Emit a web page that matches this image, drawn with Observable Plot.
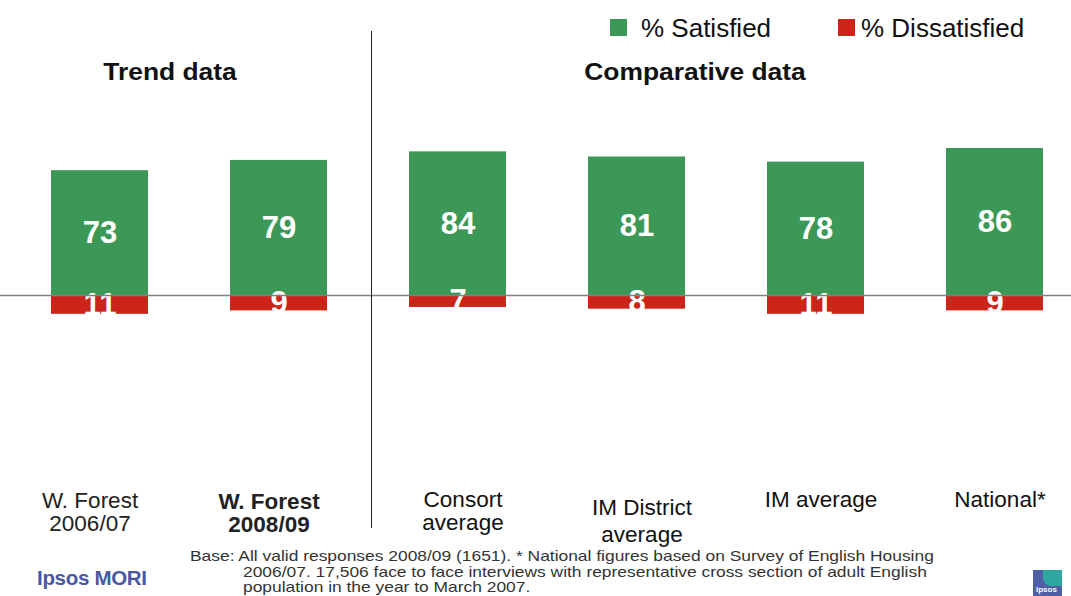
<!DOCTYPE html>
<html>
<head>
<meta charset="utf-8">
<script src="https://cdn.jsdelivr.net/npm/d3@7"></script>
<script src="https://cdn.jsdelivr.net/npm/@observablehq/plot@0.6"></script>
<style>
  html, body { margin: 0; padding: 0; background: #fff; }
  #wrap { position: relative; width: 1071px; height: 596px; overflow: hidden; font-family: "Liberation Sans", Arial, sans-serif; }
  #wrap svg { position: absolute; left: 0; top: 0; overflow: visible; }
  .abs { position: absolute; white-space: nowrap; }
</style>
</head>
<body>
<div id="wrap"></div>
<script>
const categories = ["W. Forest\n2006/07", "W. Forest\n2008/09", "Consort\naverage", "IM District\naverage", "IM average", "National*"];
const satisfied = [73, 79, 84, 81, 78, 86];
const dissatisfied = [11, 9, 7, 8, 11, 9];
const seriesNames = ["% Satisfied", "% Dissatisfied"];
const seriesColors = ["#3c9856", "#cc2418"];
const groupTitles = ["Trend data", "Comparative data"];
const footnote = [
  "Base: All valid responses 2008/09 (1651). * National figures based on Survey of English Housing",
  "2006/07. 17,506 face to face interviews with representative cross section of adult English",
  "population in the year to March 2007."
];

const rows = categories.map((c, i) => ({cat: c, sat: satisfied[i], dis: dissatisfied[i]}));
const compRows = rows.slice(2);

const chart = Plot.plot({
  width: 1071,
  height: 596,
  margin: 0,
  style: {fontFamily: "Liberation Sans, Arial, sans-serif", background: "transparent"},
  x: {domain: categories, range: [10.5, 1084.5], paddingInner: 0.458, paddingOuter: 0.229, axis: null},
  y: {domain: [0, 100], range: [295, 124], axis: null},
  marks: [
    Plot.barY(rows, {x: "cat", y1: 0, y2: "sat", fill: seriesColors[0]}),
    Plot.barY(rows, {x: "cat", y1: 0, y2: d => -d.dis, fill: seriesColors[1]}),
    Plot.text(rows, {x: "cat", y: d => d.sat / 2, text: d => String(d.sat), fill: "white", fontSize: 31, fontWeight: "bold"}),
    Plot.text(rows, {x: "cat", y: d => -d.dis / 2, text: d => String(d.dis), fill: "white", fontSize: 31, fontWeight: "bold"}),
    Plot.ruleY([0], {stroke: "#808080", strokeWidth: 1.5}),
    Plot.text(rows.slice(0, 1), {x: "cat", text: "cat", frameAnchor: "top", dy: 491, dx: -10, lineAnchor: "top", fontSize: 22.5, lineHeight: 1.03, fill: "#222"}),
    Plot.text(rows.slice(1, 2), {x: "cat", text: "cat", frameAnchor: "top", dy: 493, dx: -10, lineAnchor: "top", fontSize: 22.5, lineHeight: 1.0, fontWeight: "bold", fill: "#222"}),
    Plot.text(compRows.filter(d => d.cat !== "IM District\naverage"), {x: "cat", text: "cat", frameAnchor: "top", dy: 490, dx: 5, lineAnchor: "top", fontSize: 22.5, lineHeight: 1.03, fill: "#111"}),
    Plot.text(compRows.filter(d => d.cat === "IM District\naverage"), {x: "cat", text: "cat", frameAnchor: "top", dy: 495, dx: 5, lineAnchor: "top", fontSize: 22.5, lineHeight: 1.2, fill: "#111"})
  ]
});

const wrap = document.getElementById("wrap");
wrap.appendChild(chart);

function addDiv(html, style) {
  const d = document.createElement("div");
  d.className = "abs";
  d.innerHTML = html;
  Object.assign(d.style, style);
  wrap.appendChild(d);
  return d;
}

// divider between trend and comparative groups
addDiv("", {left: "371px", top: "31px", width: "1px", height: "497px", background: "#222"});

// group titles
addDiv(groupTitles[0], {left: "170px", top: "58px", transform: "translateX(-50%) scaleX(1.1)", fontSize: "24px", fontWeight: "bold", color: "#111"});
addDiv(groupTitles[1], {left: "695px", top: "58px", transform: "translateX(-50%) scaleX(1.1)", fontSize: "24px", fontWeight: "bold", color: "#111"});

// legend
addDiv("", {left: "610px", top: "19px", width: "17px", height: "17px", background: seriesColors[0]});
addDiv(seriesNames[0], {left: "641px", top: "13px", fontSize: "26px", lineHeight: "30px", color: "#111"});
addDiv("", {left: "838px", top: "19px", width: "17px", height: "17px", background: seriesColors[1]});
addDiv(seriesNames[1], {left: "861px", top: "13px", fontSize: "26px", lineHeight: "30px", color: "#111"});

// footnote
const footStyle = {fontSize: "15px", color: "#333", lineHeight: "15px", transform: "scaleX(1.16)", transformOrigin: "0 0"};
addDiv(footnote[0], Object.assign({left: "190px", top: "548px"}, footStyle));
addDiv(footnote[1], Object.assign({left: "243px", top: "564px"}, footStyle));
addDiv(footnote[2], Object.assign({left: "243px", top: "579px"}, footStyle));

// logos
addDiv("Ipsos MORI", {left: "37px", top: "566px", fontSize: "20.5px", fontWeight: "bold", color: "#4a57a2", letterSpacing: "-0.3px"});
const logo = addDiv("", {left: "1033px", top: "570px", width: "29px", height: "26px", background: "#4e5fa6", overflow: "hidden"});
logo.innerHTML = '<div style="position:absolute;left:10px;top:0;width:19px;height:16px;background:#2fa6a0;border-radius:0 0 0 8px"></div><div style="position:absolute;left:3px;top:15px;font-size:8px;color:#fff;font-weight:bold">Ipsos</div>';
</script>
</body>
</html>
